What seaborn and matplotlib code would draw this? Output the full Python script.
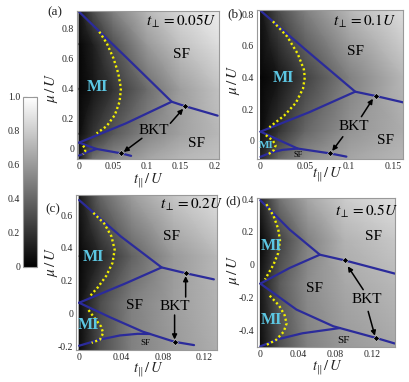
import matplotlib
matplotlib.use('Agg')
import matplotlib.pyplot as plt
import seaborn as sns
from matplotlib.ticker import AutoMinorLocator

sns.set_style('white')
plt.rcParams['font.family'] = ['Liberation Serif', 'DejaVu Serif']
plt.rcParams['mathtext.fontset'] = 'stix'

BLUE = '#2b2b9b'
YELLOW = '#f2f000'
CYAN = '#5cc6e2'

# ---------------- panel (a)  t_perp = 0.05U ----------------
a_top_t = [0, 0.07, 0.137, 0.157, 0.205]
a_top_mu = [0.915, 0.61, 0.315, 0.285, 0.222]
a_mid_t = [0, 0.07, 0.137]
a_mid_mu = [0.042, 0.172, 0.315]
a_low_t = [0, 0.026, 0.062, 0.077]
a_low_mu = [0.042, 0.0, -0.029, -0.046]
a_bot_t = [0, 0.013, 0.026]
a_bot_mu = [-0.044, -0.02, 0.0]
a_yel_t = [0.030, 0.041, 0.051, 0.058, 0.062, 0.060, 0.053, 0.041, 0.026]
a_yel_mu = [0.782, 0.705, 0.604, 0.505, 0.404, 0.316, 0.227, 0.153, 0.104]
a_yel2_t = [0.006, 0.009, 0.009, 0.006]
a_yel2_mu = [0.022, 0.003, -0.018, -0.036]
a_bkt_t = [0.157, 0.062]
a_bkt_mu = [0.285, -0.029]
a_field_t = [0, 0.02, 0.05, 0.1, 0.15, 0.207]
a_field_mu = [-0.07, 0.1, 0.4, 0.7, 0.92]
a_field = [[0.10, 0.45, 0.55, 0.65, 0.72, 0.76],
           [0.05, 0.20, 0.35, 0.52, 0.63, 0.72],
           [0.02, 0.08, 0.20, 0.42, 0.62, 0.76],
           [0.03, 0.12, 0.32, 0.60, 0.76, 0.87],
           [0.08, 0.30, 0.50, 0.72, 0.85, 0.93]]

# ---------------- panel (b)  t_perp = 0.1U ----------------
b_top_t = [0, 0.05, 0.107, 0.130, 0.163]
b_top_mu = [0.823, 0.58, 0.31, 0.283, 0.24]
b_mid_t = [0, 0.055, 0.107]
b_mid_mu = [0.057, 0.18, 0.31]
b_low_t = [0, 0.042, 0.078, 0.097]
b_low_mu = [0.057, -0.05, -0.08, -0.101]
b_bot_t = [0, 0.012, 0.025, 0.042]
b_bot_mu = [-0.102, -0.075, -0.058, -0.05]
b_yel_t = [0.014, 0.030, 0.042, 0.049, 0.050, 0.048, 0.040, 0.027, 0.010]
b_yel_mu = [0.755, 0.66, 0.55, 0.45, 0.40, 0.33, 0.24, 0.16, 0.085]
b_yel2_t = [0.006, 0.014, 0.017, 0.015, 0.008]
b_yel2_mu = [0.035, 0.0, -0.03, -0.06, -0.09]
b_bkt_t = [0.130, 0.078]
b_bkt_mu = [0.283, -0.08]
b_field_t = [0, 0.02, 0.05, 0.1, 0.163]
b_field_mu = [-0.116, 0.06, 0.4, 0.827]
b_field = [[0.15, 0.40, 0.55, 0.65, 0.72],
           [0.05, 0.20, 0.40, 0.58, 0.68],
           [0.02, 0.08, 0.25, 0.50, 0.72],
           [0.08, 0.30, 0.50, 0.72, 0.88]]

# ---------------- panel (c)  t_perp = 0.2U ----------------
c_top_t = [0, 0.04, 0.079, 0.1025, 0.129]
c_top_mu = [0.693, 0.47, 0.281, 0.245, 0.208]
c_mid_t = [0, 0.045, 0.079]
c_mid_mu = [0.065, 0.185, 0.281]
c_low_t = [0, 0.03, 0.061, 0.0914, 0.11]
c_low_mu = [0.065, -0.025, -0.112, -0.174, -0.194]
c_bot_t = [0, 0.02, 0.039, 0.056, 0.068]
c_bot_mu = [-0.198, -0.16, -0.135, -0.125, -0.126]
c_yel_t = [0.0136, 0.024, 0.031, 0.034, 0.032, 0.026, 0.018, 0.011]
c_yel_mu = [0.615, 0.55, 0.47, 0.39, 0.31, 0.23, 0.16, 0.11]
c_yel2_t = [0.009, 0.015, 0.021, 0.023, 0.020, 0.012]
c_yel2_mu = [0.02, -0.03, -0.08, -0.12, -0.16, -0.18]
c_bkt_t = [0.1025, 0.0914]
c_bkt_mu = [0.245, -0.174]
c_field_t = [0, 0.02, 0.05, 0.09, 0.132]
c_field_mu = [-0.224, 0.065, 0.35, 0.724]
c_field = [[0.05, 0.30, 0.50, 0.60, 0.68],
           [0.05, 0.30, 0.50, 0.62, 0.70],
           [0.02, 0.15, 0.38, 0.60, 0.72],
           [0.10, 0.40, 0.62, 0.78, 0.88]]

# ---------------- panel (d)  t_perp = 0.5U ----------------
d_top_t = [0, 0.0314, 0.0636, 0.0904, 0.144]
d_top_mu = [0.394, 0.214, 0.061, 0.026, -0.055]
d_mid_t = [0, 0.0314, 0.0636]
d_mid_mu = [-0.116, -0.02, 0.061]
d_low_t = [0, 0.0386, 0.078, 0.124, 0.144]
d_low_mu = [-0.116, -0.275, -0.377, -0.449, -0.483]
d_bot_t = [0, 0.02, 0.045, 0.07, 0.085]
d_bot_mu = [-0.5, -0.455, -0.42, -0.40, -0.388]
d_yel_t = [0.0064, 0.014, 0.019, 0.021, 0.019, 0.014, 0.005]
d_yel_mu = [0.37, 0.30, 0.22, 0.15, 0.07, 0.0, -0.09]
d_yel2_t = [0.010, 0.020, 0.026, 0.028, 0.025, 0.017, 0.007]
d_yel2_mu = [-0.19, -0.25, -0.31, -0.36, -0.41, -0.46, -0.49]
d_bkt_t = [0.0904, 0.124]
d_bkt_mu = [0.026, -0.449]
d_field_t = [0, 0.02, 0.05, 0.09, 0.144]
d_field_mu = [-0.504, -0.116, 0.15, 0.408]
d_field = [[0.05, 0.30, 0.50, 0.60, 0.66],
           [0.10, 0.35, 0.55, 0.66, 0.72],
           [0.02, 0.25, 0.50, 0.70, 0.78],
           [0.15, 0.45, 0.65, 0.80, 0.88]]

# tick values and labels
a_xticks = [0, 0.05, 0.1, 0.15, 0.2]
a_xlabels = ['0', '0.05', '0.1', '0.15', '0.2']
b_xticks = [0, 0.05, 0.1, 0.15]
b_xlabels = ['0', '0.05', '0.1', '0.15']
cd_xticks = [0, 0.04, 0.08, 0.12]
cd_xlabels = ['0', '0.04', '0.08', '0.12']
ab_yticks = [0, 0.2, 0.4, 0.6, 0.8]
ab_ylabels = ['0', '0.2', '0.4', '0.6', '0.8']
c_yticks = [-0.2, 0, 0.2, 0.4, 0.6]
c_ylabels = ['-0.2', '0', '0.2', '0.4', '0.6']
d_yticks = [-0.4, -0.2, 0, 0.2, 0.4]
d_ylabels = ['-0.4', '-0.2', '0', '0.2', '0.4']
cbar_ticks = [0, 0.2, 0.4, 0.6, 0.8, 1.0]
cbar_labels = ['0', '0.2', '0.4', '0.6', '0.8', '1.0']

W, H = 409, 382
fig = plt.figure(figsize=(W / 100, H / 100), dpi=100)


def box(l, t, r, b):
    return [l / W, 1 - b / H, (r - l) / W, (b - t) / H]


def fpos(x, y):
    return x / W, 1 - y / H


def panel(rect, xlim, ylim, field_t, field_mu, field, lines, yellows, bkt_t, bkt_mu,
          xticks, xlabels, yticks, ylabels):
    ax = fig.add_axes(rect)
    mesh = ax.pcolormesh(field_t, field_mu, field, shading='gouraud', cmap='gray',
                         vmin=0, vmax=1)
    for t, mu in lines:
        sns.lineplot(x=t, y=mu, sort=False, estimator=None, color=BLUE, lw=1.6, ax=ax)
    for t, mu in yellows:
        sns.lineplot(x=t, y=mu, sort=False, estimator=None, color=YELLOW, lw=1.7,
                     ls=(0, (0.9, 1.1)), ax=ax)
    sns.scatterplot(x=bkt_t, y=bkt_mu, color='black', s=9, marker='D', ax=ax, zorder=5)
    ax.set_xlim(*xlim)
    ax.set_ylim(*ylim)
    ax.set_xticks(xticks)
    ax.set_xticklabels(xlabels)
    ax.set_yticks(yticks)
    ax.set_yticklabels(ylabels)
    ax.xaxis.set_minor_locator(AutoMinorLocator(5))
    ax.yaxis.set_minor_locator(AutoMinorLocator(5))
    ax.tick_params(which='both', direction='in', top=True, right=True, color='#777777',
                   labelsize=7, pad=2)
    ax.tick_params(which='major', length=3, width=0.6)
    ax.tick_params(which='minor', length=1.5, width=0.5)
    for s in ax.spines.values():
        s.set_color('#999999')
        s.set_linewidth(0.8)
    ax.set_xlabel('')
    ax.set_ylabel('')
    return ax, mesh


def arrow(ax, start, end):
    ax.annotate('', xy=end, xytext=start,
                arrowprops=dict(arrowstyle='-|>', color='black', lw=1.1,
                                mutation_scale=7, shrinkA=0, shrinkB=0))


def txt(ax, x, y, s, size=11, color='black', weight='normal'):
    ax.text(x, y, s, fontsize=size, color=color, fontweight=weight,
            ha='center', va='center')


# (a)
ax, mesh = panel(box(77, 11, 219, 159), (-0.003, 0.207), (-0.067, 0.92),
                 a_field_t, a_field_mu, a_field,
                 [(a_top_t, a_top_mu), (a_mid_t, a_mid_mu), (a_low_t, a_low_mu), (a_bot_t, a_bot_mu)],
                 [(a_yel_t, a_yel_mu), (a_yel2_t, a_yel2_mu)], a_bkt_t, a_bkt_mu,
                 a_xticks, a_xlabels, ab_yticks, ab_ylabels)
txt(ax, 0.027, 0.41, 'MI', 11.5, CYAN, 'bold')
txt(ax, 0.152, 0.627, 'SF')
txt(ax, 0.174, 0.038, 'SF')
txt(ax, 0.11, 0.12, 'BKT')
txt(ax, 0.152, 0.85, r'$t_{\perp} = 0.05U$', 11)
arrow(ax, (0.135, 0.171), (0.154, 0.268))
arrow(ax, (0.093, 0.071), (0.066, -0.02))

# (b)
ax, mesh = panel(box(257, 10, 403, 159), (-0.004, 0.161), (-0.116, 0.827),
                 b_field_t, b_field_mu, b_field,
                 [(b_top_t, b_top_mu), (b_mid_t, b_mid_mu), (b_low_t, b_low_mu), (b_bot_t, b_bot_mu)],
                 [(b_yel_t, b_yel_mu), (b_yel2_t, b_yel2_mu)], b_bkt_t, b_bkt_mu,
                 b_xticks, b_xlabels, ab_yticks, ab_ylabels)
txt(ax, 0.026, 0.395, 'MI', 11.5, CYAN, 'bold')
txt(ax, 0.006, -0.03, 'MI', 8, CYAN, 'bold')
txt(ax, 0.107, 0.563, 'SF')
txt(ax, 0.141, 0.004, 'SF')
txt(ax, 0.043, -0.092, 'SF', 6)
txt(ax, 0.105, 0.089, 'BKT')
txt(ax, 0.118, 0.753, r'$t_{\perp} = 0.1U$', 11)
arrow(ax, (0.114, 0.152), (0.127, 0.265))
arrow(ax, (0.093, 0.025), (0.081, -0.065))

# (c)
ax, mesh = panel(box(76, 195, 217, 350), (-0.003, 0.132), (-0.224, 0.724),
                 c_field_t, c_field_mu, c_field,
                 [(c_top_t, c_top_mu), (c_mid_t, c_mid_mu), (c_low_t, c_low_mu), (c_bot_t, c_bot_mu)],
                 [(c_yel_t, c_yel_mu), (c_yel2_t, c_yel2_mu)], c_bkt_t, c_bkt_mu,
                 cd_xticks, cd_xlabels, c_yticks, c_ylabels)
txt(ax, 0.0136, 0.346, 'MI', 11.5, CYAN, 'bold')
txt(ax, 0.009, -0.072, 'MI', 11.5, CYAN, 'bold')
txt(ax, 0.088, 0.469, 'SF')
txt(ax, 0.053, 0.051, 'SF')
txt(ax, 0.063, -0.18, 'SF', 6.5)
txt(ax, 0.0914, 0.045, 'BKT')
txt(ax, 0.108, 0.662, r'$t_{\perp} = 0.2U$', 11)
arrow(ax, (0.102, 0.10), (0.102, 0.228))
arrow(ax, (0.0914, -0.01), (0.0914, -0.16))

# (d)
ax, mesh = panel(box(257, 198, 395, 347), (-0.0036, 0.144), (-0.504, 0.408),
                 d_field_t, d_field_mu, d_field,
                 [(d_top_t, d_top_mu), (d_mid_t, d_mid_mu), (d_low_t, d_low_mu), (d_bot_t, d_bot_mu)],
                 [(d_yel_t, d_yel_mu), (d_yel2_t, d_yel2_mu)], d_bkt_t, d_bkt_mu,
                 cd_xticks, cd_xlabels, d_yticks, d_ylabels)
txt(ax, 0.0118, 0.112, 'MI', 11.5, CYAN, 'bold')
txt(ax, 0.0118, -0.337, 'MI', 11.5, CYAN, 'bold')
txt(ax, 0.1207, 0.173, 'SF')
txt(ax, 0.058, -0.143, 'SF')
txt(ax, 0.0885, -0.463, 'SF', 8)
txt(ax, 0.114, -0.214, 'BKT')
txt(ax, 0.113, 0.326, r'$t_{\perp} = 0.5U$', 11)
arrow(ax, (0.11, -0.153), (0.0935, -0.01))
arrow(ax, (0.1153, -0.286), (0.1225, -0.435))

# panel letters and axis labels
for s, x, y in [('(a)', 55, 12), ('(b)', 235, 14), ('(c)', 53, 209), ('(d)', 233, 201)]:
    fig.text(*fpos(x, y), s, fontsize=9.5, ha='center', va='center')
for x, y in [(52, 88), (234, 80), (51, 262), (234, 270)]:
    fig.text(*fpos(x, y), r'$\mu\,/\,U$', fontsize=11, ha='center', va='center',
             rotation=90)
for x, y in [(148, 181), (327, 175), (148, 370), (327, 368)]:
    fig.text(*fpos(x, y), r'$t_{\|}\,/\,U$', fontsize=10.5, ha='center', va='center')

# colorbar
cax = fig.add_axes(box(23, 97, 37, 267))
cb = fig.colorbar(mesh, cax=cax)
cb.set_ticks(cbar_ticks)
cb.set_ticklabels(cbar_labels)
cax.yaxis.set_ticks_position('both')
cax.yaxis.set_label_position('left')
cax.yaxis.set_minor_locator(AutoMinorLocator(4))
cax.tick_params(which='both', direction='in', labelleft=True, labelright=False,
                labelsize=7, color='#777777', pad=2)
cax.tick_params(which='major', length=3)
cax.tick_params(which='minor', length=1.5)
cb.outline.set_edgecolor('#999999')

fig.savefig('out.png', dpi=100)
